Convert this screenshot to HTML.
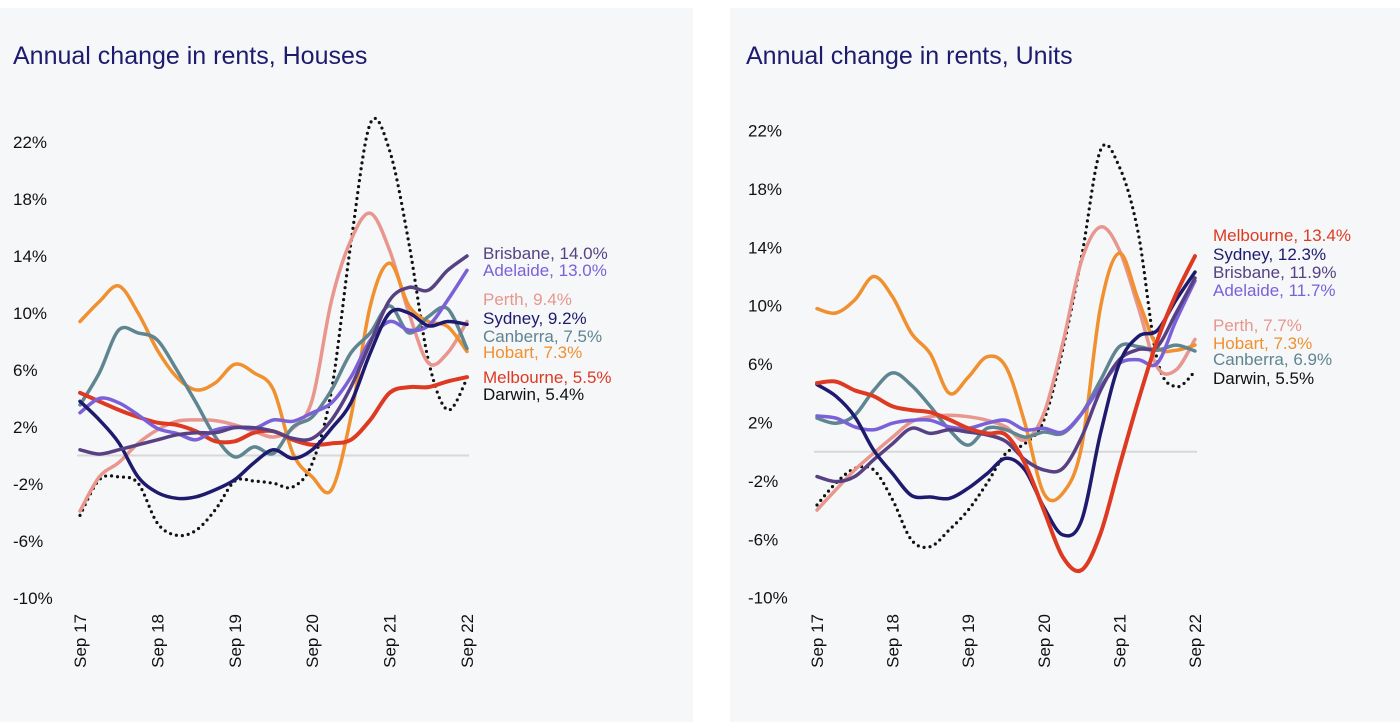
<!DOCTYPE html>
<html><head><meta charset="utf-8">
<style>
html,body{margin:0;padding:0;background:#fff;width:1400px;height:722px;overflow:hidden}
svg{display:block;font-family:"Liberation Sans",sans-serif}
</style></head>
<body>
<svg id="chart" width="1400" height="722" viewBox="0 0 1400 722">
<rect x="0" y="8" width="693" height="714" fill="#f5f7f9"/>
<rect x="730" y="8" width="670" height="714" fill="#f5f7f9"/>
<text x="13" y="64" font-size="25" fill="#1e1a6e">Annual change in rents, Houses</text>
<text x="746" y="64" font-size="25" fill="#1e1a6e">Annual change in rents, Units</text>
<g id="houses"></g>
<g id="units"></g>
</svg>
<script>
const xLabels = ["Sep 17","Sep 18","Sep 19","Sep 20","Sep 21","Sep 22"];
const yTicks = [22,18,14,10,6,2,-2,-6,-10];
const seriesNames = ["Brisbane","Adelaide","Perth","Sydney","Canberra","Hobart","Melbourne","Darwin"];
const seriesColors = {Brisbane:"#574182",Adelaide:"#7b61d8",Perth:"#e8968e",Sydney:"#1e1a6e",Canberra:"#5f8591",Hobart:"#f0902e",Melbourne:"#de3a22",Darwin:"#111"};
// quarterly values Sep 17 .. Sep 22 (21 points)
const housesBrisbane = [0.4,0.1,0.4,0.75,1.1,1.45,1.6,1.6,1.95,1.95,1.7,1.2,1.2,2.5,4.8,7.9,10.9,11.8,11.6,13.0,14.0];
const housesAdelaide = [3.0,4.0,3.7,2.85,1.9,1.55,1.1,1.8,2.0,1.9,2.5,2.4,3.0,3.7,5.5,8.1,9.4,8.8,9.1,10.9,13.0];
const housesPerth = [-3.9,-1.5,-0.5,0.85,1.8,2.4,2.5,2.45,2.15,1.7,1.3,1.9,3.9,10.9,15.1,17.0,14.4,10.0,6.5,7.2,9.4];
const housesSydney = [3.8,2.5,0.9,-1.5,-2.6,-3.0,-2.9,-2.4,-1.7,-0.5,0.4,-0.2,0.4,1.9,3.7,7.2,10.0,10.0,9.1,9.4,9.2];
const housesCanberra = [3.55,5.8,8.8,8.6,8.1,6.0,3.7,1.3,-0.1,0.6,0.15,2.0,2.7,4.6,7.2,8.6,10.5,8.6,9.75,10.3,7.5];
const housesHobart = [9.4,10.8,11.9,10.0,7.4,5.5,4.6,5.1,6.4,5.8,4.6,0.15,-1.5,-2.4,2.7,10.5,13.5,10.5,9.4,9.05,7.3];
const housesMelbourne = [4.4,3.8,3.2,2.7,2.3,2.15,1.7,1.0,1.0,1.6,1.7,1.1,0.75,0.85,1.1,2.5,4.4,4.8,4.8,5.2,5.5];
const housesDarwin = [-4.2,-1.7,-1.5,-1.95,-4.75,-5.6,-5.25,-3.8,-1.8,-1.8,-1.95,-2.2,-0.55,4.6,14.9,23.3,21.4,14.9,6.7,3.2,5.4];
const unitsMelbourne = [4.7,4.8,4.2,3.8,3.1,2.85,2.7,2.2,1.6,1.25,1.15,-0.8,-4.0,-7.2,-8.1,-5.6,-1.0,3.5,7.6,10.8,13.4];
const unitsSydney = [4.6,3.8,2.4,0.1,-1.5,-3.0,-3.1,-3.2,-2.5,-1.5,-0.45,-1.25,-3.8,-5.7,-4.7,1.25,6.05,7.9,8.3,10.4,12.3];
const unitsBrisbane = [-1.7,-2.05,-1.7,-0.55,0.55,1.6,1.25,1.5,1.35,1.15,0.7,-0.55,-1.25,-1.15,1.0,4.2,6.3,7.0,7.2,9.5,11.9];
const unitsAdelaide = [2.45,2.3,1.7,1.5,1.95,2.15,2.15,1.7,1.6,1.95,2.15,1.5,1.6,1.35,2.6,4.45,6.05,6.3,6.05,9.0,11.7];
const unitsPerth = [-4.0,-2.6,-1.25,-0.1,1.0,2.05,2.4,2.5,2.4,2.15,1.7,0.8,2.6,7.4,13.1,15.4,13.8,9.9,5.8,5.6,7.7];
const unitsHobart = [9.8,9.5,10.4,12.0,10.6,8.1,6.7,4.0,5.1,6.5,5.8,1.95,-2.85,-2.85,0.35,9.9,13.6,10.4,7.2,6.95,7.3];
const unitsCanberra = [2.3,1.95,2.5,4.2,5.4,4.55,3.1,1.5,0.45,1.6,1.5,1.0,1.35,1.25,2.6,4.9,7.2,7.2,6.95,7.3,6.9];
const unitsDarwin = [-3.65,-2.15,-1.15,-1.25,-3.3,-6.05,-6.5,-5.35,-4.0,-2.15,-0.1,0.55,2.15,7.0,13.35,20.65,19.5,14.95,6.3,4.45,5.5];

const NS="http://www.w3.org/2000/svg";
function mk(tag,attrs,parent){const e=document.createElementNS(NS,tag);for(const k in attrs)e.setAttribute(k,attrs[k]);parent.appendChild(e);return e;}
function smooth(pts){let d="M"+pts[0][0]+","+pts[0][1];for(let i=0;i<pts.length-1;i++){const p0=pts[i-1]||pts[i],p1=pts[i],p2=pts[i+1],p3=pts[i+2]||p2;const c1=[p1[0]+(p2[0]-p0[0])/6,p1[1]+(p2[1]-p0[1])/6],c2=[p2[0]-(p3[0]-p1[0])/6,p2[1]-(p3[1]-p1[1])/6];d+=" C"+c1[0].toFixed(1)+","+c1[1].toFixed(1)+" "+c2[0].toFixed(1)+","+c2[1].toFixed(1)+" "+p2[0].toFixed(1)+","+p2[1].toFixed(1);}return d;}

function drawChart(g,cfg){
  const x=i=>cfg.x0+i*(cfg.x1-cfg.x0)/20;
  const y=v=>cfg.yZero - v*cfg.pxPer;
  yTicks.forEach(t=>{
    const tx=mk("text",{x:cfg.yLabX,y:y(t)+6,"font-size":17,fill:"#111"},g);
    tx.textContent=t+"%";
    
    
  });
  xLabels.forEach((l,i)=>{
    const px=cfg.x0+i*(cfg.x1-cfg.x0)/5+6;
    const tx=mk("text",{x:0,y:0,"font-size":17,fill:"#111","text-anchor":"end",transform:"translate("+px+",614) rotate(-90)"},g);
    tx.textContent=l;
    
    
  });
  const zl=mk("line",{x1:cfg.x0-3,x2:cfg.x1+2,y1:y(0),y2:y(0),stroke:"#d8d8d8","stroke-width":2},g);
  
  
  cfg.order.forEach(name=>{
    const vals=cfg.data[name];
    const pts=vals.map((v,i)=>[x(i),y(v)]);
    const dotted=name==="Darwin";
    const p=mk("path",{d:smooth(pts),fill:"none",stroke:seriesColors[name],"stroke-width":name==="Melbourne"?4:3.5,"stroke-linejoin":"round","stroke-linecap":"round"},g);
    if(dotted){p.setAttribute("stroke-dasharray","0 6");p.setAttribute("stroke-width","3.2");}
    
    
  });
  cfg.labels.forEach(([name,ly])=>{
    const vals=cfg.data[name];
    const tx=mk("text",{x:cfg.labX,y:ly+6,"font-size":17,fill:seriesColors[name]},g);
    tx.textContent=name+", "+vals[vals.length-1].toFixed(1)+"%";
    
    
  });
}
drawChart(document.getElementById("houses"),{
  x0:80,x1:467,yZero:455.5,pxPer:14.25,yLabX:13,labX:483,
  data:{Brisbane:housesBrisbane,Adelaide:housesAdelaide,Perth:housesPerth,Sydney:housesSydney,Canberra:housesCanberra,Hobart:housesHobart,Melbourne:housesMelbourne,Darwin:housesDarwin},
  order:["Darwin","Perth","Hobart","Canberra","Melbourne","Adelaide","Sydney","Brisbane"],
  labels:[["Brisbane",253],["Adelaide",270],["Perth",299],["Sydney",318],["Canberra",336],["Hobart",352],["Melbourne",377],["Darwin",394]]
});
drawChart(document.getElementById("units"),{
  x0:817,x1:1195,yZero:451.7,pxPer:14.6,yLabX:748,labX:1213,
  data:{Brisbane:unitsBrisbane,Adelaide:unitsAdelaide,Perth:unitsPerth,Sydney:unitsSydney,Canberra:unitsCanberra,Hobart:unitsHobart,Melbourne:unitsMelbourne,Darwin:unitsDarwin},
  order:["Darwin","Perth","Hobart","Canberra","Adelaide","Brisbane","Sydney","Melbourne"],
  labels:[["Melbourne",235],["Sydney",254],["Brisbane",272],["Adelaide",290],["Perth",325],["Hobart",343],["Canberra",359],["Darwin",378]]
});
</script>
</body></html>
